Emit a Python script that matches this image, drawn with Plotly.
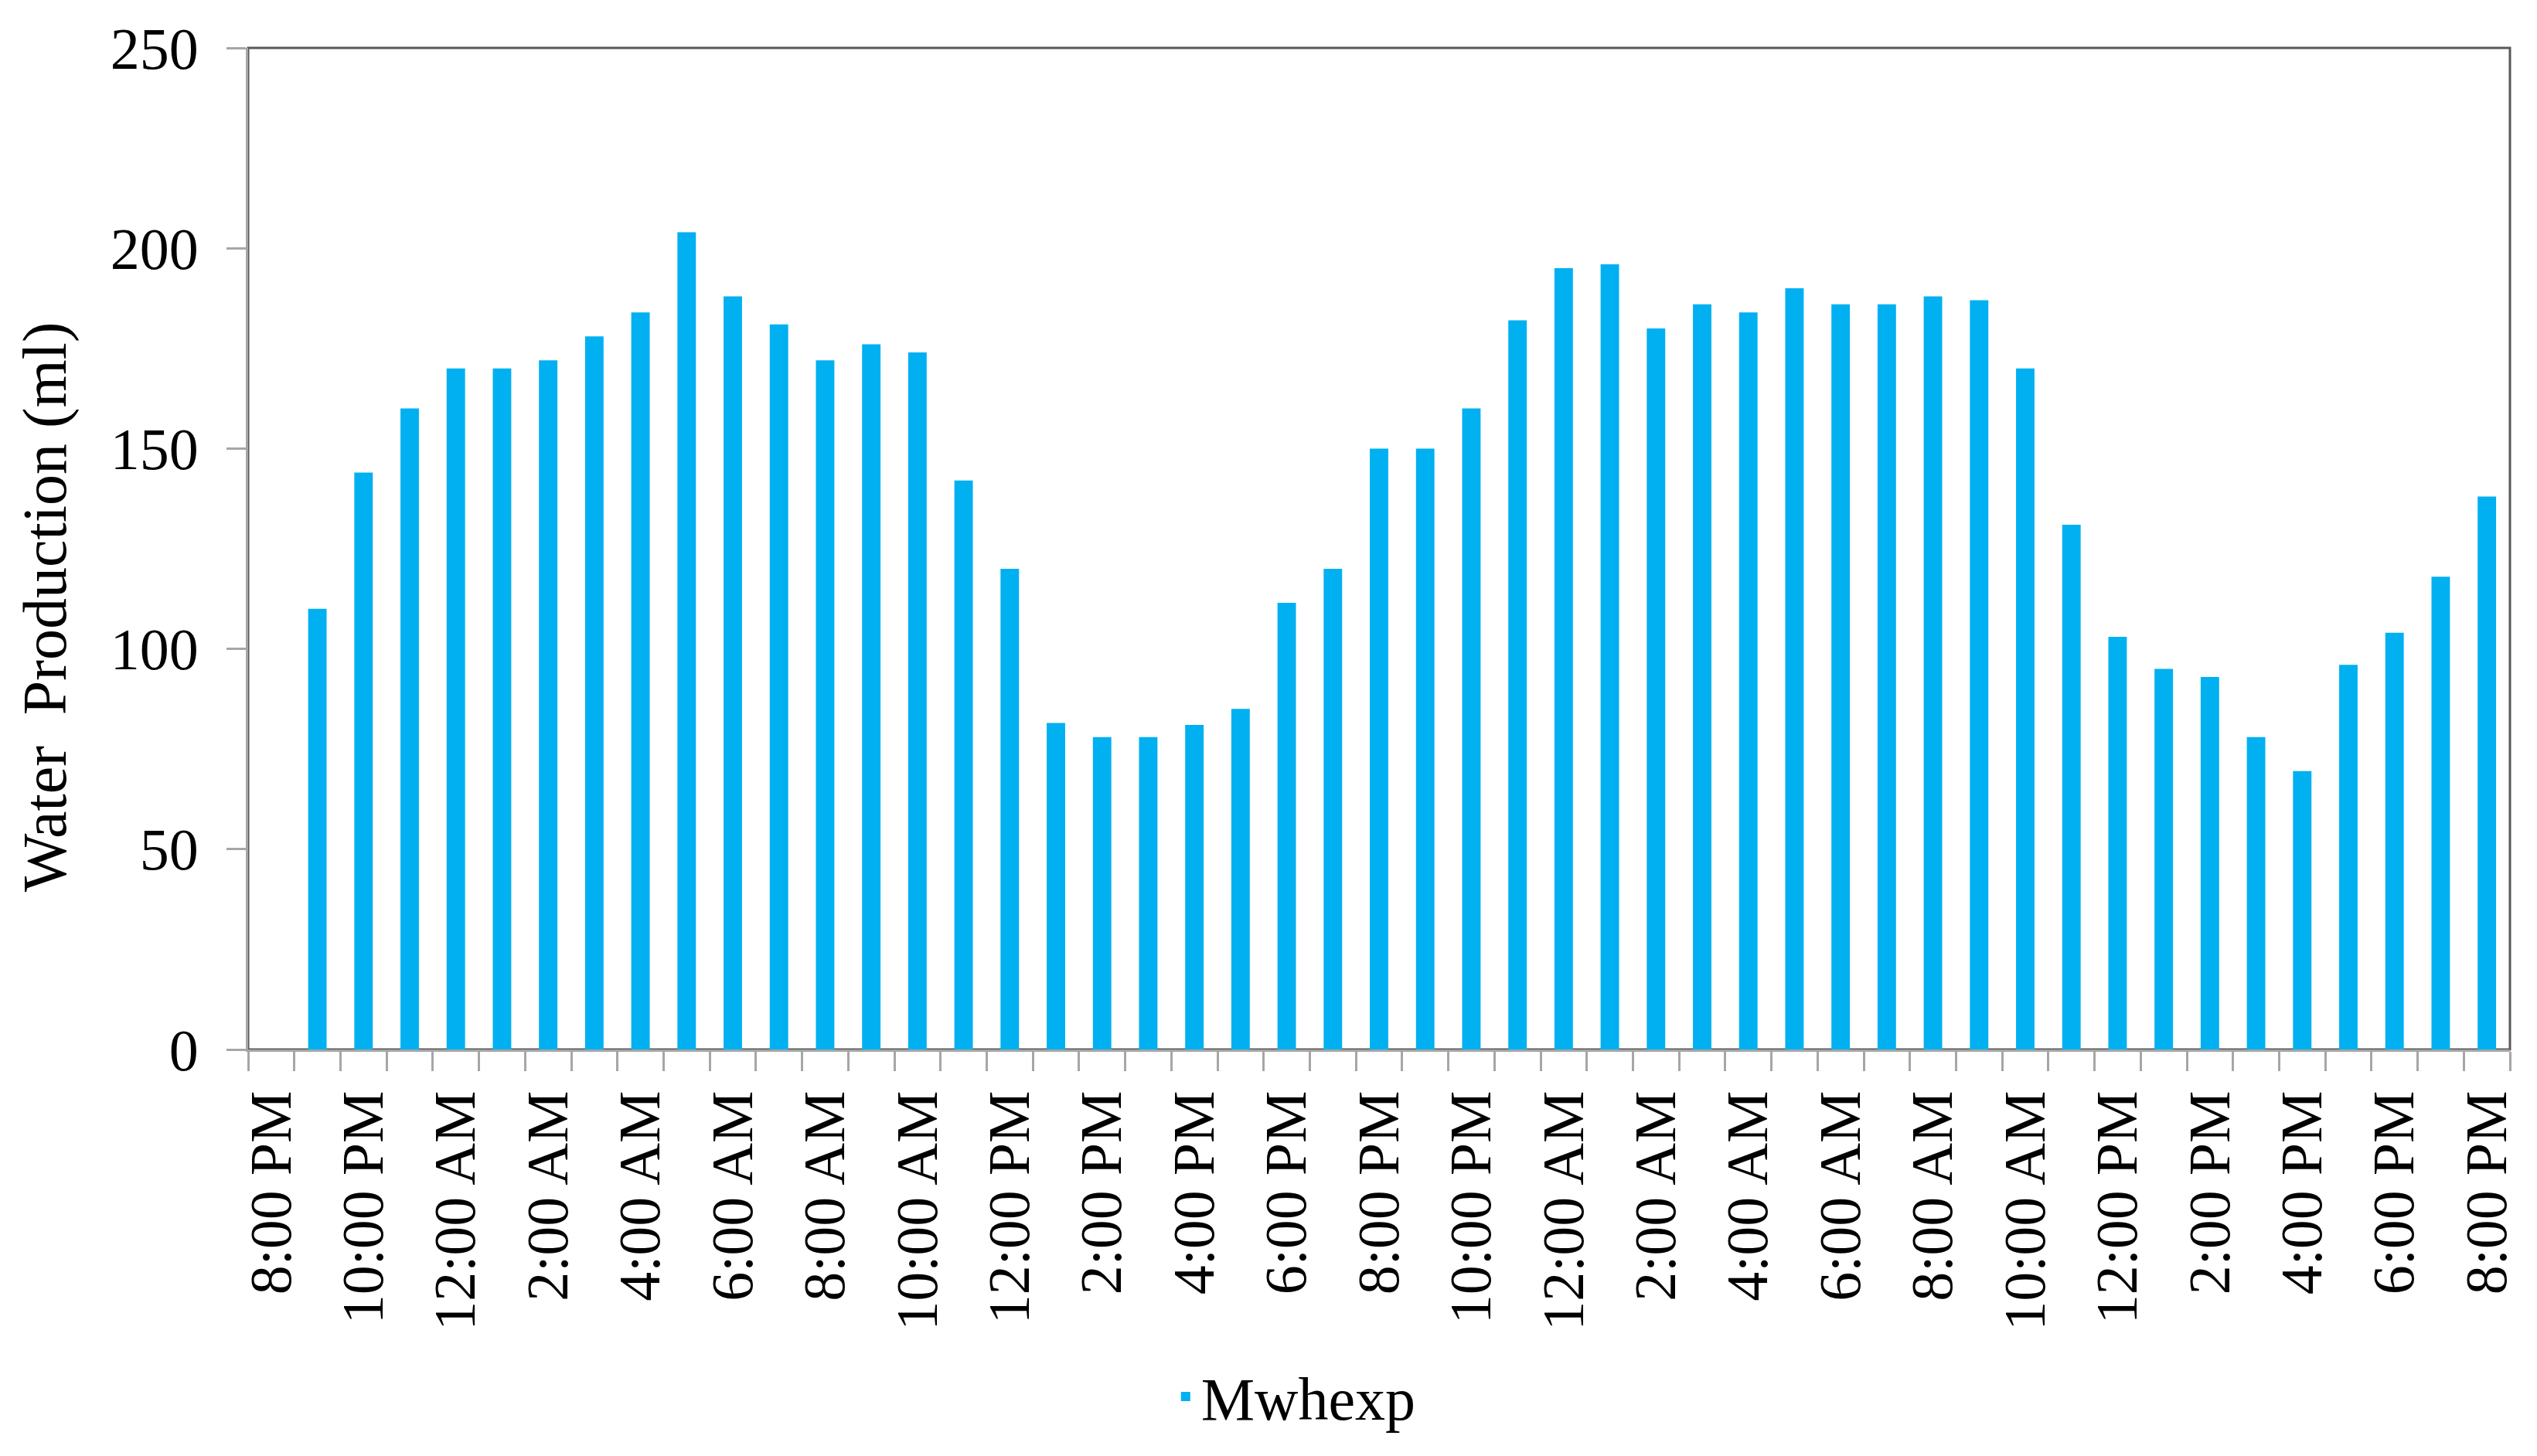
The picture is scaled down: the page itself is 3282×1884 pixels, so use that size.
import plotly.graph_objects as go

# Hourly categories over 48 hours
hours = ["8:00 PM", "9:00 PM", "10:00 PM", "11:00 PM", "12:00 AM", "1:00 AM", "2:00 AM",
         "3:00 AM", "4:00 AM", "5:00 AM", "6:00 AM", "7:00 AM", "8:00 AM", "9:00 AM",
         "10:00 AM", "11:00 AM", "12:00 PM", "1:00 PM", "2:00 PM", "3:00 PM", "4:00 PM",
         "5:00 PM", "6:00 PM", "7:00 PM", "8:00 PM", "9:00 PM", "10:00 PM", "11:00 PM",
         "12:00 AM", "1:00 AM", "2:00 AM", "3:00 AM", "4:00 AM", "5:00 AM", "6:00 AM",
         "7:00 AM", "8:00 AM", "9:00 AM", "10:00 AM", "11:00 AM", "12:00 PM", "1:00 PM",
         "2:00 PM", "3:00 PM", "4:00 PM", "5:00 PM", "6:00 PM", "7:00 PM", "8:00 PM"]

# Water production (ml), Mwhexp series
mwhexp = [None, 110, 144, 160, 170, 170, 172, 178, 184, 204, 188,
          181, 172, 176, 174, 142, 120, 81.5, 78, 78, 81,
          85, 111.5, 120, 150, 150, 160, 182, 195, 196, 180,
          186, 184, 190, 186, 186, 188, 187, 170, 131, 103,
          95, 93, 78, 69.5, 96, 104, 118, 138]

tick_labels = ["8:00 PM", "10:00 PM", "12:00 AM", "2:00 AM", "4:00 AM", "6:00 AM",
               "8:00 AM", "10:00 AM", "12:00 PM", "2:00 PM", "4:00 PM", "6:00 PM",
               "8:00 PM", "10:00 PM", "12:00 AM", "2:00 AM", "4:00 AM", "6:00 AM",
               "8:00 AM", "10:00 AM", "12:00 PM", "2:00 PM", "4:00 PM", "6:00 PM",
               "8:00 PM"]

y_ticks = [0, 50, 100, 150, 200, 250]
y_title = "Water\u00a0 Production (ml)"

FONT = "Liberation Serif, Times New Roman, serif"
AXIS_GRAY = "#a6a6a6"
BAR_COLOR = "#00B0F0"

n = len(hours)
xpos = list(range(n))

fig = go.Figure()
fig.add_trace(go.Bar(
    x=xpos, y=mwhexp, name="Mwhexp",
    customdata=hours,
    hovertemplate="%{customdata}: %{y}<extra></extra>",
    marker=dict(color=BAR_COLOR, line=dict(width=0)),
    showlegend=True,
))

fig.update_layout(
    width=3282, height=1884,
    margin=dict(l=313, r=43, t=54, b=534),
    paper_bgcolor="white", plot_bgcolor="white",
    bargap=0.6,
    font=dict(family=FONT, size=76, color="black"),
    showlegend=True,
    legend=dict(orientation="h", xref="container", yref="container",
                x=0.508, y=0.045, xanchor="center", yanchor="middle",
                font=dict(family=FONT, size=78, color="black"),
                bgcolor="rgba(0,0,0,0)"),
)

# plot-area border (top/right darker frame)
fig.add_shape(type="rect", xref="paper", yref="paper", x0=0, y0=0, x1=1, y1=1,
              line=dict(color="#595959", width=3), layer="below")

fig.update_xaxes(
    range=[-0.5, n - 0.5],
    tickmode="array", tickvals=xpos[::2], ticktext=tick_labels,
    tickangle=-90, ticks="",
    showline=True, linecolor=AXIS_GRAY, linewidth=3,
    showgrid=False, zeroline=False,
    tickfont=dict(family=FONT, size=76, color="black"),
    ticklabelstandoff=20,
    minor=dict(tickmode="array", tickvals=[i - 0.5 for i in range(n + 1)],
               ticks="outside", ticklen=25, tickwidth=3, tickcolor=AXIS_GRAY,
               showgrid=False),
)

fig.update_yaxes(
    range=[0, 250], tickmode="array", tickvals=y_ticks,
    ticks="outside", ticklen=25, tickwidth=3, tickcolor=AXIS_GRAY,
    showline=True, linecolor=AXIS_GRAY, linewidth=3,
    showgrid=False, zeroline=False,
    tickfont=dict(family=FONT, size=76, color="black"),
    ticklabelstandoff=21,
)

# y-axis title placed like the original (slightly below the axis centre)
fig.add_annotation(
    text=y_title, textangle=-90, showarrow=False,
    xref="paper", yref="paper", x=-0.0899, y=0.442,
    xanchor="center", yanchor="middle",
    font=dict(family=FONT, size=80, color="black"),
)

fig.write_html("out.html")
